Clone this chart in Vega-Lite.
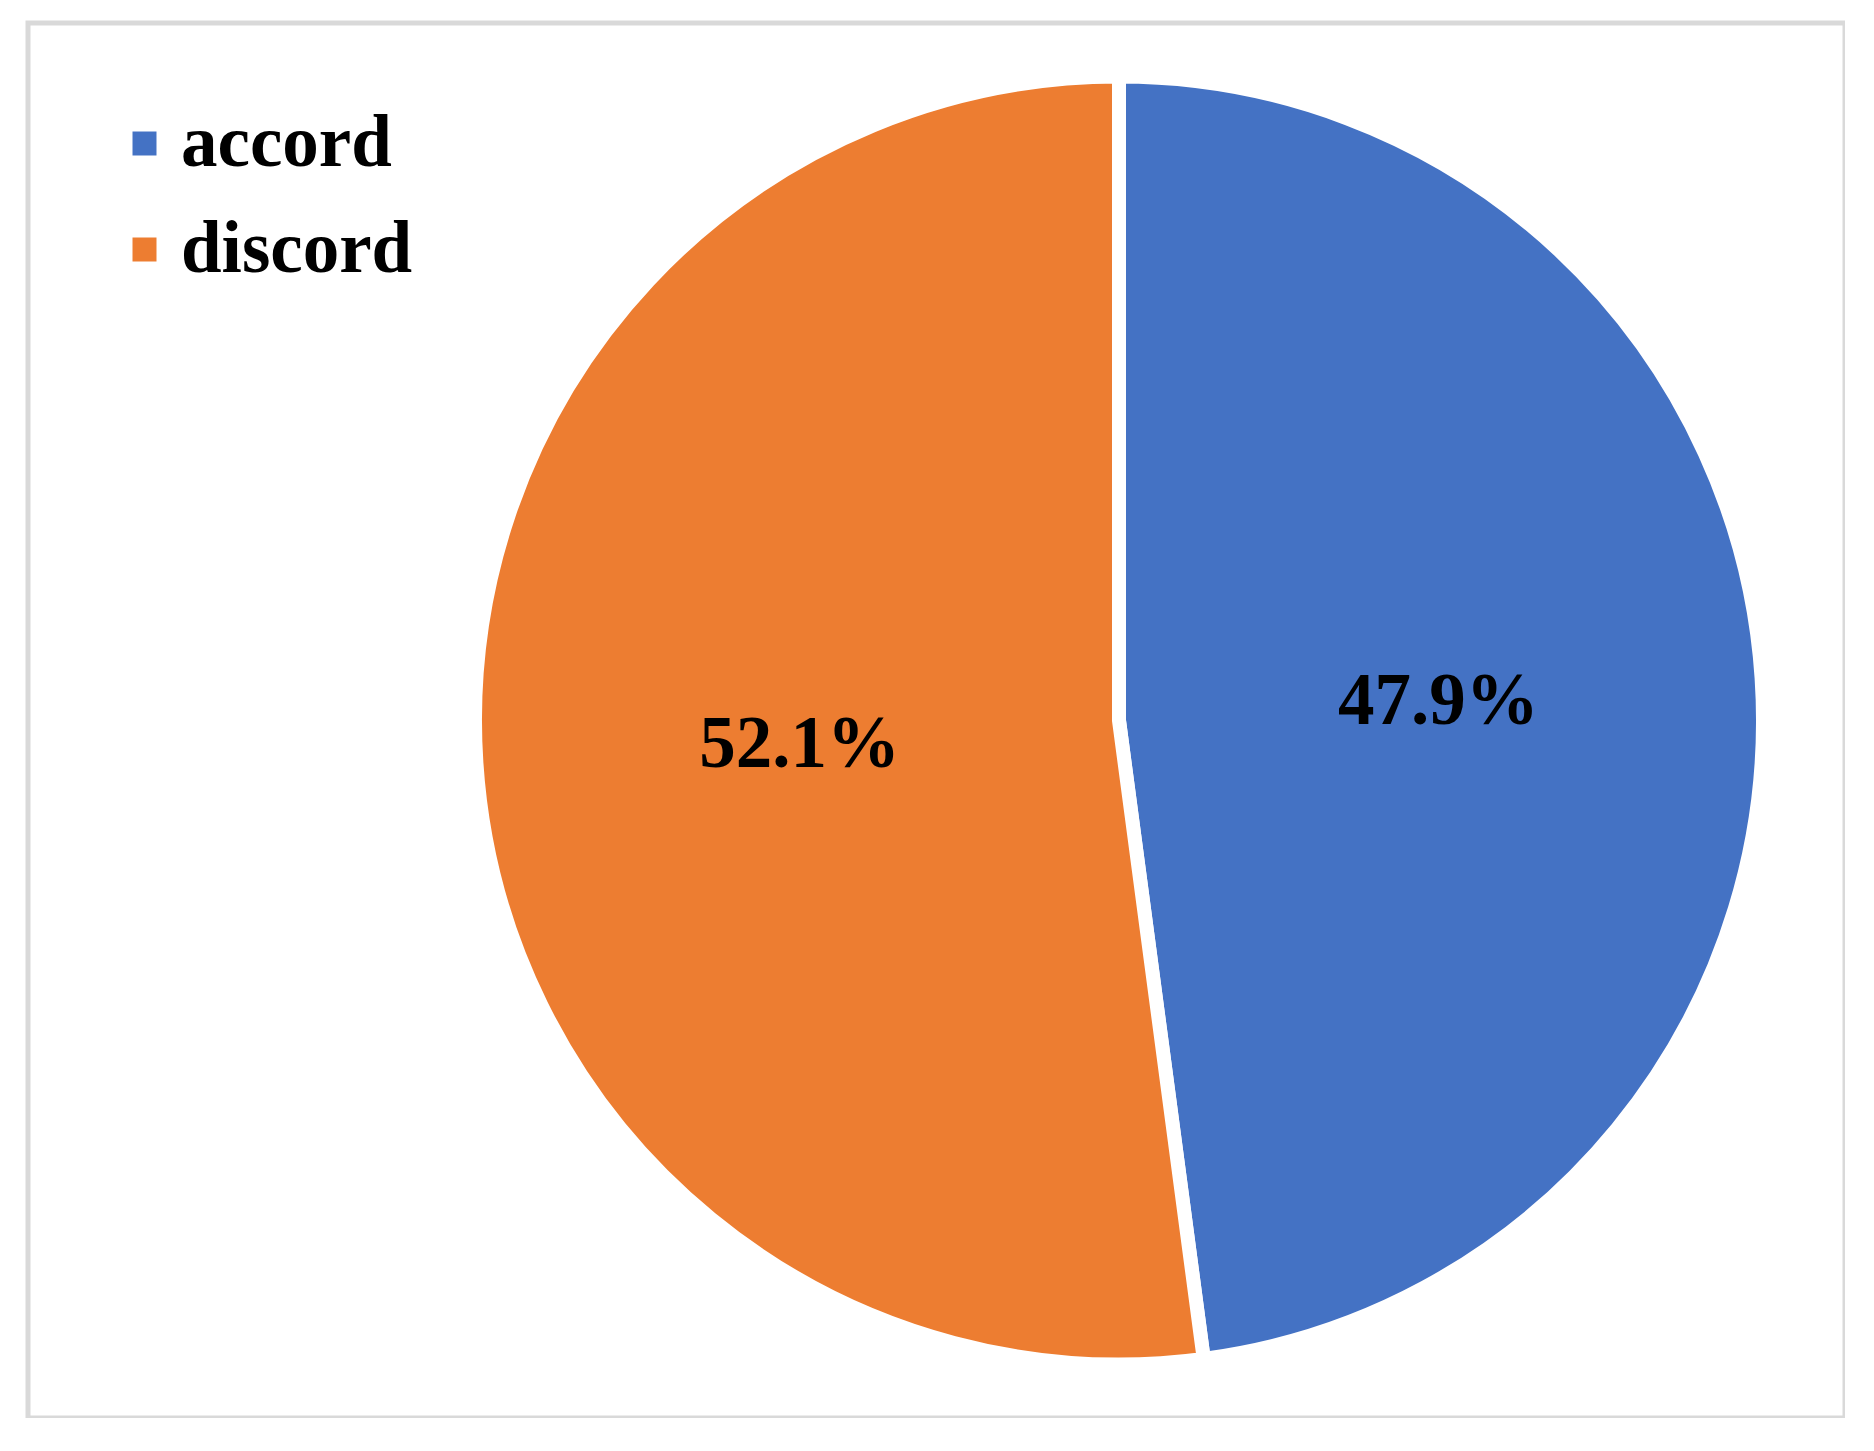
{
  "$schema": "https://vega.github.io/schema/vega-lite/v6.json",
  "autosize": "none",
  "width": 1817,
  "height": 1395,
  "padding": {"left": 28, "top": 23, "right": 0, "bottom": 0},
  "background": "white",
  "view": {"stroke": "#D9D9D9", "strokeWidth": 5, "fill": "white"},
  "config": {
    "view": {"stroke": "#D9D9D9", "strokeWidth": 5},
    "font": "Liberation Serif"
  },
  "data": {
    "values": [
      {"category": "accord", "share": 47.9, "label": "47.9%"},
      {"category": "discord", "share": 52.1, "label": "52.1%"}
    ]
  },
  "encoding": {
    "theta": {"field": "share", "type": "quantitative", "stack": true},
    "order": {"field": "category", "type": "nominal"}
  },
  "layer": [
    {
      "mark": {"type": "arc", "outerRadius": 644, "stroke": "white", "strokeWidth": 14, "xOffset": 182.5},
      "encoding": {
        "color": {
          "field": "category",
          "type": "nominal",
          "scale": {"domain": ["accord", "discord"], "range": ["#4472C4", "#ED7D31"]},
          "legend": {
            "title": null,
            "orient": "none",
            "legendX": 80,
            "legendY": 84,
            "padding": 0,
            "symbolType": "square",
            "symbolSize": 576,
            "symbolStrokeWidth": 0,
            "labelFont": "Liberation Serif",
            "labelFontWeight": "bold",
            "labelFontSize": 73,
            "labelColor": "black",
            "labelOffset": 0,
            "rowPadding": 32,
            "labelLimit": 0
          }
        }
      }
    },
    {
      "mark": {"type": "text", "radius": 320, "xOffset": 182.5, "dy": 3, "font": "Liberation Serif", "fontWeight": "bold", "fontSize": 73, "color": "black"},
      "encoding": {
        "text": {"field": "label", "type": "nominal"}
      }
    }
  ]
}
